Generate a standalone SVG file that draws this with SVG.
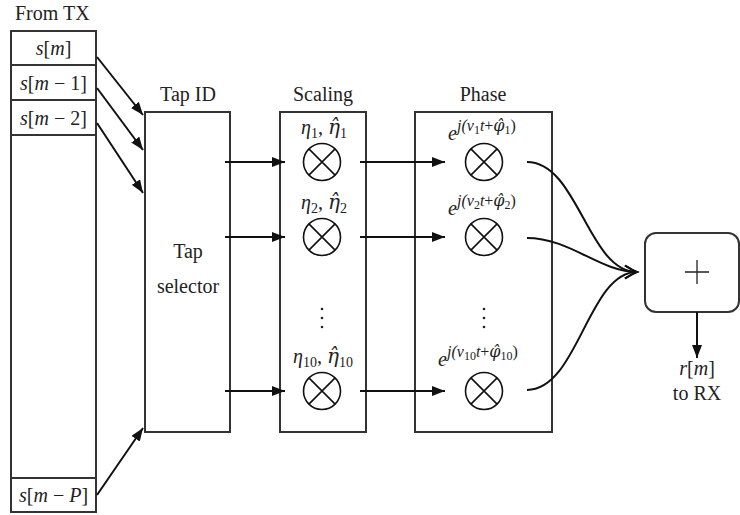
<svg xmlns="http://www.w3.org/2000/svg" width="740" height="515" viewBox="0 0 740 515">
  <defs>
    <marker id="tri" markerUnits="userSpaceOnUse" markerWidth="14" markerHeight="10" refX="13" refY="5" orient="auto">
      <path d="M0,0 L13,5 L0,10 Z" fill="#111"/>
    </marker>
    <marker id="chev" markerUnits="userSpaceOnUse" markerWidth="16" markerHeight="16" refX="13" refY="8" orient="auto">
      <path d="M1,1.5 Q8,6 13,8 Q8,10 1,14.5" fill="none" stroke="#111" stroke-width="1.8"/>
    </marker>
    <g id="mul">
      <circle r="18.5" fill="#fff" stroke="#111" stroke-width="1.6"/>
      <path d="M-13.1,-13.1 L13.1,13.1 M13.1,-13.1 L-13.1,13.1" stroke="#111" stroke-width="1.6"/>
    </g>
  </defs>
  <style>
    .box { fill: #fff; stroke: #333; stroke-width: 2; }
    .ln { fill: none; stroke: #111; stroke-width: 2; }
    text { font-family: "Liberation Serif", "DejaVu Serif", serif; }
    .t { font-size: 20px; fill: #222; }
    .mi { font-style: italic; }
    .up { font-style: normal; }
    .acc { font-family: "DejaVu Serif", "Liberation Serif", serif; font-style: italic; }
    .sup { font-size: 16px; fill: #222; font-style: italic; }
    .mid { text-anchor: middle; }
  </style>

  <!-- transmit buffer -->
  <g id="tx-buffer">
    <text class="t" x="15" y="20">From TX</text>
    <rect class="box" x="11" y="31" width="85" height="481"/>
    <path d="M11,65 H96 M11,100 H96 M11,135 H96 M11,478 H96" stroke="#333" stroke-width="2"/>
    <text class="t mid" x="53.5" y="55"><tspan class="mi">s</tspan>[<tspan class="mi">m</tspan>]</text>
    <text class="t mid" x="53.5" y="90"><tspan class="mi">s</tspan>[<tspan class="mi">m</tspan> − 1]</text>
    <text class="t mid" x="53.5" y="125"><tspan class="mi">s</tspan>[<tspan class="mi">m</tspan> − 2]</text>
    <text class="t mid" x="53.5" y="502"><tspan class="mi">s</tspan>[<tspan class="mi">m</tspan> − <tspan class="mi">P</tspan>]</text>
  </g>

  <!-- tap selector -->
  <g id="tap-id">
    <text class="t mid" x="188" y="101">Tap ID</text>
    <rect class="box" x="145" y="112" width="85" height="320"/>
    <text class="t mid" x="188" y="258">Tap</text>
    <text class="t mid" x="188" y="293">selector</text>
  </g>

  <!-- scaling stage -->
  <g id="scaling">
    <text class="t mid" x="323" y="101">Scaling</text>
    <rect class="box" x="280" y="112" width="86" height="320"/>
    <text class="t mid" x="324" y="134"><tspan class="mi">η</tspan><tspan font-size="14" dy="4">1</tspan><tspan dy="-4">, </tspan><tspan class="acc">η̂</tspan><tspan font-size="14" dy="4">1</tspan></text>
    <use href="#mul" x="322" y="162"/>
    <text class="t mid" x="324" y="209"><tspan class="mi">η</tspan><tspan font-size="14" dy="4">2</tspan><tspan dy="-4">, </tspan><tspan class="acc">η̂</tspan><tspan font-size="14" dy="4">2</tspan></text>
    <use href="#mul" x="322" y="237"/>
    <g fill="#222"><circle cx="322" cy="309" r="1.3"/><circle cx="322" cy="318" r="1.3"/><circle cx="322" cy="327" r="1.3"/></g>
    <text class="t mid" x="323" y="363"><tspan class="mi">η</tspan><tspan font-size="14" dy="4">10</tspan><tspan dy="-4">, </tspan><tspan class="acc">η̂</tspan><tspan font-size="14" dy="4">10</tspan></text>
    <use href="#mul" x="322" y="391"/>
  </g>

  <!-- phase stage -->
  <g id="phase">
    <text class="t mid" x="483" y="101">Phase</text>
    <rect class="box" x="415" y="112" width="137" height="320"/>
    <text class="t mi" x="448" y="140">e</text>
    <text class="sup" x="457" y="131">j(ν<tspan class="up" font-size="12" dy="3">1</tspan><tspan dy="-3">t</tspan><tspan class="up">+</tspan><tspan class="acc">φ̂</tspan><tspan class="up" font-size="12" dy="3">1</tspan><tspan class="up" dy="-3">)</tspan></text>
    <use href="#mul" x="484" y="162"/>
    <text class="t mi" x="448" y="215">e</text>
    <text class="sup" x="457" y="206">j(ν<tspan class="up" font-size="12" dy="3">2</tspan><tspan dy="-3">t</tspan><tspan class="up">+</tspan><tspan class="acc">φ̂</tspan><tspan class="up" font-size="12" dy="3">2</tspan><tspan class="up" dy="-3">)</tspan></text>
    <use href="#mul" x="484" y="237"/>
    <g fill="#222"><circle cx="484" cy="309" r="1.3"/><circle cx="484" cy="318" r="1.3"/><circle cx="484" cy="327" r="1.3"/></g>
    <text class="t mi" x="438" y="366">e</text>
    <text class="sup" x="447" y="357">j(ν<tspan class="up" font-size="12" dy="3">10</tspan><tspan dy="-3">t</tspan><tspan class="up">+</tspan><tspan class="acc">φ̂</tspan><tspan class="up" font-size="12" dy="3">10</tspan><tspan class="up" dy="-3">)</tspan></text>
    <use href="#mul" x="484" y="391"/>
  </g>

  <!-- adder -->
  <g id="adder">
    <rect class="box" x="645" y="233" width="94" height="79" rx="11"/>
    <path d="M685,272 H709 M697,260 V284" stroke="#222" stroke-width="1.3"/>
    <text class="t mid" x="697" y="375"><tspan class="mi">r</tspan>[<tspan class="mi">m</tspan>]</text>
    <text class="t mid" x="697" y="400">to RX</text>
  </g>

  <!-- connectors -->
  <g id="connectors">
    <path class="ln" d="M97,57 L143,115" marker-end="url(#tri)"/>
    <path class="ln" d="M97,88 L143,150" marker-end="url(#tri)"/>
    <path class="ln" d="M97,123 L143,193" marker-end="url(#tri)"/>
    <path class="ln" d="M97,495 L143,428" marker-end="url(#tri)"/>

    <path class="ln" d="M225,162 H285" marker-end="url(#tri)"/>
    <path class="ln" d="M225,237 H285" marker-end="url(#tri)"/>
    <path class="ln" d="M225,391 H285" marker-end="url(#tri)"/>

    <path class="ln" d="M360,162 H445" marker-end="url(#tri)"/>
    <path class="ln" d="M360,237 H445" marker-end="url(#tri)"/>
    <path class="ln" d="M360,391 H445" marker-end="url(#tri)"/>

    <path class="ln" d="M527,162 C578,162 588,272 637,272" marker-end="url(#chev)"/>
    <path class="ln" d="M527,238 C570,238 600,272 637,272" marker-end="url(#chev)"/>
    <path class="ln" d="M527,390 C578,390 588,272 637,272" marker-end="url(#chev)"/>

    <path class="ln" d="M697,312 V358" marker-end="url(#tri)"/>
  </g>
</svg>
